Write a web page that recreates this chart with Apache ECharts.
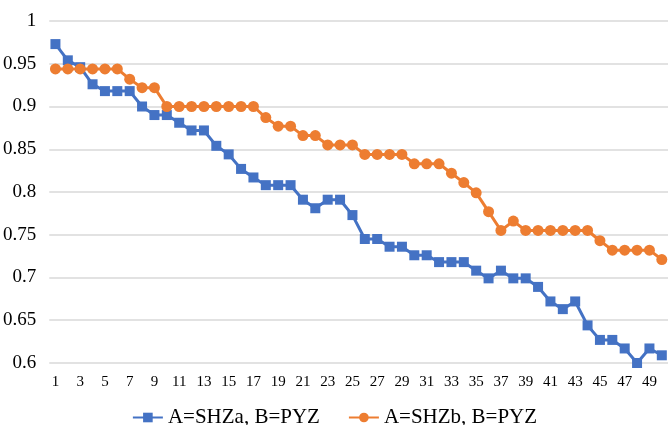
<!DOCTYPE html>
<html>
<head>
<meta charset="utf-8">
<script src="https://cdn.jsdelivr.net/npm/echarts@6/dist/echarts.min.js"></script>
<style>html,body{margin:0;padding:0;background:#fff;overflow:hidden;}#main{width:669px;height:425px;}</style>
</head>
<body>
<div id="main"></div>
<script>
var categories = [];
for (var i = 1; i <= 50; i++) categories.push(String(i));
var seriesNames = ['A=SHZa, B=PYZ', 'A=SHZb, B=PYZ'];
var shzaValues = [0.973,0.954,0.946,0.926,0.918,0.918,0.918,0.900,0.890,0.890,
  0.881,0.872,0.872,0.854,0.844,0.827,0.817,0.808,0.808,0.808,
  0.791,0.781,0.791,0.791,0.773,0.745,0.745,0.736,0.736,0.726,
  0.726,0.718,0.718,0.718,0.708,0.699,0.708,0.699,0.699,0.689,
  0.672,0.663,0.672,0.644,0.627,0.627,0.617,0.600,0.617,0.609];
var shzbValues = [0.944,0.944,0.944,0.944,0.944,0.944,0.932,0.922,0.922,0.900,
  0.900,0.900,0.900,0.900,0.900,0.900,0.900,0.887,0.877,0.877,
  0.866,0.866,0.855,0.855,0.855,0.844,0.844,0.844,0.844,0.833,
  0.833,0.833,0.822,0.811,0.799,0.777,0.755,0.766,0.755,0.755,
  0.755,0.755,0.755,0.755,0.743,0.732,0.732,0.732,0.732,0.721];

var font = '"Liberation Serif", "Times New Roman", Times, serif';
var chart = echarts.init(document.getElementById('main'), null, {renderer: 'canvas'});
chart.setOption({
  animation: false,
  textStyle: {fontFamily: font},
  grid: {left: 49, right: 1, top: 21, bottom: 62, containLabel: false},
  legend: {
    top: 402, left: 'center', itemWidth: 30, itemHeight: 12, itemGap: 28,
    textStyle: {fontFamily: font, fontSize: 21, color: '#000'},
    data: seriesNames
  },
  xAxis: {
    type: 'category', data: categories, boundaryGap: true,
    axisLine: {show: false}, axisTick: {show: false},
    axisLabel: {interval: 1, fontFamily: font, fontSize: 15, color: '#000', margin: 12}
  },
  yAxis: {
    type: 'value', min: 0.6, max: 1, interval: 0.05,
    axisLine: {show: false}, axisTick: {show: false},
    axisLabel: {fontFamily: font, fontSize: 19, color: '#000', margin: 13},
    splitLine: {lineStyle: {color: '#d9d9d9', width: 1.5}}
  },
  series: [
    {name: seriesNames[0], type: 'line', data: shzaValues, symbol: 'rect', symbolSize: 10,
      showAllSymbol: true,
      lineStyle: {color: '#4472c4', width: 3}, itemStyle: {color: '#4472c4'}},
    {name: seriesNames[1], type: 'line', data: shzbValues, symbol: 'circle', symbolSize: 11,
      showAllSymbol: true,
      lineStyle: {color: '#ed7d31', width: 3}, itemStyle: {color: '#ed7d31'}}
  ]
});
</script>
</body>
</html>
